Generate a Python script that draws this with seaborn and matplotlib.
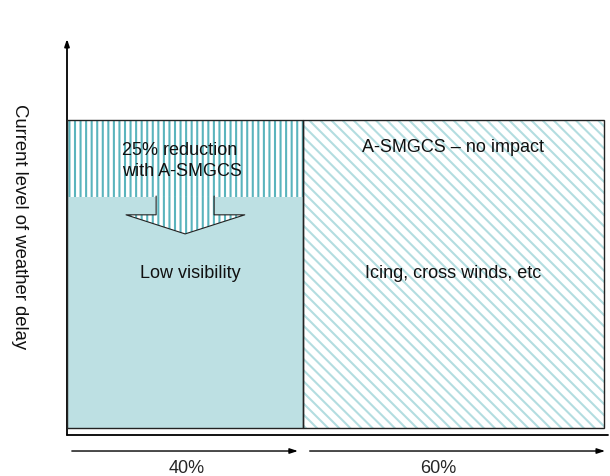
import matplotlib
matplotlib.use("Agg")
import matplotlib.pyplot as plt
import seaborn as sns
import numpy as np
import pandas as pd
from matplotlib.patches import Polygon

# ---- data ----
categories = ["Low visibility", "Icing, cross winds, etc"]
share_labels = ["40%", "60%"]
widths = [43.9, 56.1]          # visual widths of the two causes
current_delay = [100, 100]     # current level of weather delay
with_asmgcs = [75, 100]        # after A-SMGCS (25% reduction for low visibility)
notes = ["25% reduction\nwith A-SMGCS", "A-SMGCS \u2013 no impact"]

sns.set_theme(style="white")
plt.rcParams["font.family"] = ["Liberation Sans", "DejaVu Sans"]
plt.rcParams["hatch.linewidth"] = 1.5

fig = plt.figure(figsize=(6.1, 4.77), dpi=100)
ax = fig.add_axes([67/610, 41/477, (608-67)/610, (436-40)/477])

edges = [0.0]
for w in widths:
    edges.append(edges[-1] + w)
centers = [(edges[i] + edges[i + 1]) / 2 for i in range(len(widths))]
df = pd.DataFrame({"x": centers, "cur": current_delay, "after": with_asmgcs,
                   "cat": categories})

TEAL_DARK = "#5ab4bd"
TEAL_FILL = "#bde0e3"
TEAL_LIGHT = "#b3dde0"

# layer 1: current delay (hatched)
sns.histplot(data=df, x="x", weights="cur", bins=edges, ax=ax,
             stat="count", element="bars", fill=True, legend=False,
             color="white", linewidth=0)
cur_patches = list(ax.patches)
cur_patches[0].set_facecolor("white")
cur_patches[0].set_edgecolor(TEAL_DARK)
cur_patches[0].set_hatch("|||")
cur_patches[0].set_linewidth(0)
cur_patches[1].set_facecolor("white")
cur_patches[1].set_edgecolor(TEAL_LIGHT)
cur_patches[1].set_hatch("\\\\\\")
cur_patches[1].set_linewidth(0)

# layer 2: low visibility remaining after A-SMGCS (solid)
low = df.iloc[[0]]
n_before = len(ax.patches)
sns.histplot(data=low, x="x", weights="after", bins=edges[:2], ax=ax,
             stat="count", element="bars", fill=True, legend=False,
             color=TEAL_FILL, alpha=1, linewidth=0)
for p in ax.patches[n_before:]:
    p.set_facecolor(TEAL_FILL)
    p.set_edgecolor(TEAL_FILL)
    p.set_linewidth(0)

# arrow showing reduction
top = with_asmgcs[0]
bx0, bx1 = 16.6, 27.4
hx0, hx1, tipx = 11.0, 33.1, 22.0
yb, ytip = top - 5.8, top - 12.0
arrow_pts = [(bx0, top + 0.3), (bx0, yb), (hx0, yb), (tipx, ytip), (hx1, yb),
             (bx1, yb), (bx1, top + 0.3)]
ax.add_patch(Polygon(arrow_pts, closed=True, facecolor="white",
                     edgecolor=TEAL_DARK, hatch="|||", linewidth=0, zorder=3))
xs, ys = zip(*arrow_pts)
ax.plot(xs, ys, color="#222222", lw=0.8, zorder=4)

# black outlines of the boxes
for x0, w, h in zip(edges[:-1], widths, current_delay):
    ax.add_patch(plt.Rectangle((x0, 0), w, h, fill=False,
                               edgecolor="#222222", lw=1.0, zorder=5))

# text labels
ax.text(edges[0] + 10.2, top + 12.0, notes[0], ha="left", va="center",
        fontsize=13, linespacing=1.3, color="#111111", zorder=6)
ax.text(centers[1], 91.5, notes[1], ha="center", va="center",
        fontsize=13, color="#111111", zorder=6)
for c, name in zip(centers, categories):
    ax.text(c + (0 if name != categories[0] else 1.0), 50.5, name,
            ha="center", va="center", fontsize=13, color="#111111", zorder=6)

# axes
ymin, ymax = -2.3, 126.3
ax.set_xlim(0, 100.75)
ax.set_ylim(ymin, ymax)
ax.set_axis_off()
ax.plot([0, 100.75], [ymin, ymin], color="black", lw=1.3, clip_on=False)
ax.annotate("", xy=(0, ymax), xytext=(0, ymin),
            arrowprops=dict(arrowstyle="-|>,head_length=0.35,head_width=0.12",
                            color="black", lw=1.3, shrinkA=0, shrinkB=0),
            annotation_clip=False)

# share arrows under the axis
ya, yl = -7.5, -12.8
arr_spans = [(edges[0] + 0.9, edges[1] - 0.9), (edges[1] + 1.3, edges[2] + 0.2)]
for (a, b), lab, c in zip(arr_spans, share_labels, [centers[0] + 0.3, centers[1] - 2.9]):
    ax.annotate("", xy=(b, ya), xytext=(a, ya),
                arrowprops=dict(arrowstyle="-|>,head_length=0.4,head_width=0.13",
                                color="black", lw=1.0, shrinkA=0, shrinkB=0),
                annotation_clip=False)
    ax.text(c, yl, lab, ha="center", va="center", fontsize=13, clip_on=False)

fig.text(19/610, 1 - 227/477, "Current level of weather delay", rotation=-90,
         ha="center", va="center", fontsize=13.3, color="#111111")

fig.savefig("out.png", dpi=100)
